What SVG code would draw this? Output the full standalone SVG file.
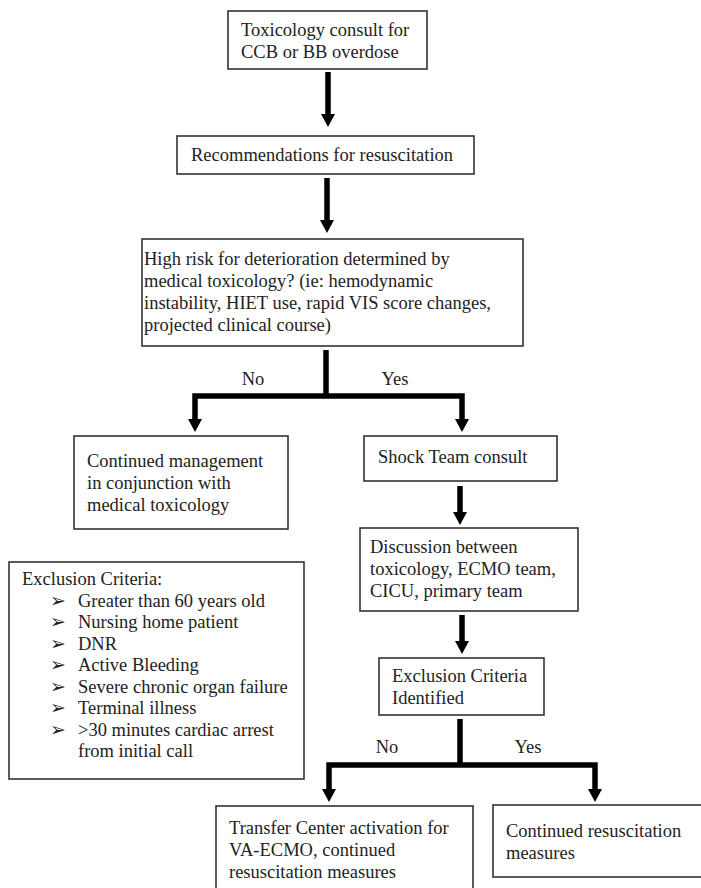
<svg xmlns="http://www.w3.org/2000/svg" width="701" height="888" viewBox="0 0 701 888">
<style>
.box{fill:#fff;stroke:#333;stroke-width:1.6}
.t{font-size:18.5px;fill:#222}
.b{font-size:19px;fill:#222;font-family:'DejaVu Sans',sans-serif}
.c{fill:none;stroke:#000;stroke-width:5.5;stroke-linejoin:miter}
</style>
<defs>
<marker id="ah" markerUnits="userSpaceOnUse" viewBox="0 0 13 14" refX="3" refY="7" markerWidth="13" markerHeight="14" orient="auto">
<path d="M0,0 L13,7 L0,14 z" fill="#000"/>
</marker>
</defs>
<rect width="701" height="888" fill="#fff"/>
<g font-family="'Liberation Serif', 'DejaVu Serif', serif">
<g id="connectors">
<path class="c" d="M328,72 V117" marker-end="url(#ah)"/>
<path class="c" d="M327,178 V223" marker-end="url(#ah)"/>
<path class="c" d="M326,350 V396"/>
<path class="c" d="M326,396 H195 V422" marker-end="url(#ah)"/>
<path class="c" d="M326,396 H462 V422" marker-end="url(#ah)"/>
<path class="c" d="M460,486 V515" marker-end="url(#ah)"/>
<path class="c" d="M462,615 V644" marker-end="url(#ah)"/>
<path class="c" d="M460,719 V765"/>
<path class="c" d="M460,765 H329 V792" marker-end="url(#ah)"/>
<path class="c" d="M460,765 H595 V792" marker-end="url(#ah)"/>
<text class="t" x="253" y="385" text-anchor="middle">No</text>
<text class="t" x="395" y="385" text-anchor="middle">Yes</text>
<text class="t" x="387" y="753" text-anchor="middle">No</text>
<text class="t" x="528" y="753" text-anchor="middle">Yes</text>
</g>
<g id="n1">
<rect class="box" x="228" y="11" width="199" height="58"/>
<text class="t" x="241" y="36">Toxicology consult for</text>
<text class="t" x="241" y="58">CCB or BB overdose</text>
</g>
<g id="n2">
<rect class="box" x="177" y="136" width="297" height="38"/>
<text class="t" x="191" y="161">Recommendations for resuscitation</text>
</g>
<g id="n3">
<rect class="box" x="142" y="239" width="381" height="107"/>
<text class="t" x="144" y="265">High risk for deterioration determined by</text>
<text class="t" x="144" y="287">medical toxicology? (ie: hemodynamic</text>
<text class="t" x="144" y="309">instability, HIET use, rapid VIS score changes,</text>
<text class="t" x="144" y="331">projected clinical course)</text>
</g>
<g id="n4">
<rect class="box" x="74" y="436" width="214" height="93"/>
<text class="t" x="87" y="467">Continued management</text>
<text class="t" x="87" y="489">in conjunction with</text>
<text class="t" x="87" y="511">medical toxicology</text>
</g>
<g id="n5">
<rect class="box" x="364" y="436" width="193" height="45"/>
<text class="t" x="378" y="463">Shock Team consult</text>
</g>
<g id="n6">
<rect class="box" x="360" y="528" width="218" height="83"/>
<text class="t" x="370" y="553">Discussion between</text>
<text class="t" x="370" y="575">toxicology, ECMO team,</text>
<text class="t" x="370" y="597">CICU, primary team</text>
</g>
<g id="n7">
<rect class="box" x="379" y="658" width="165" height="57"/>
<text class="t" x="392" y="682">Exclusion Criteria</text>
<text class="t" x="392" y="704">Identified</text>
</g>
<g id="n8">
<rect class="box" x="9" y="562" width="295" height="217"/>
<text class="t" x="22" y="585">Exclusion Criteria:</text>
<text class="b" x="50" y="607">➢</text><text class="t" x="78" y="607">Greater than 60 years old</text>
<text class="b" x="50" y="628">➢</text><text class="t" x="78" y="628">Nursing home patient</text>
<text class="b" x="50" y="650">➢</text><text class="t" x="78" y="650">DNR</text>
<text class="b" x="50" y="671">➢</text><text class="t" x="78" y="671">Active Bleeding</text>
<text class="b" x="50" y="693">➢</text><text class="t" x="78" y="693">Severe chronic organ failure</text>
<text class="b" x="50" y="714">➢</text><text class="t" x="78" y="714">Terminal illness</text>
<text class="b" x="50" y="736">➢</text><text class="t" x="78" y="736">&gt;30 minutes cardiac arrest</text>
<text class="t" x="78" y="757">from initial call</text>
</g>
<g id="n9">
<rect class="box" x="216" y="806" width="257" height="90"/>
<text class="t" x="229" y="834">Transfer Center activation for</text>
<text class="t" x="229" y="856">VA-ECMO, continued</text>
<text class="t" x="229" y="878">resuscitation measures</text>
</g>
<g id="n10">
<rect class="box" x="493" y="805" width="212" height="72"/>
<text class="t" x="506" y="837">Continued resuscitation</text>
<text class="t" x="506" y="859">measures</text>
</g>
</g>
</svg>
